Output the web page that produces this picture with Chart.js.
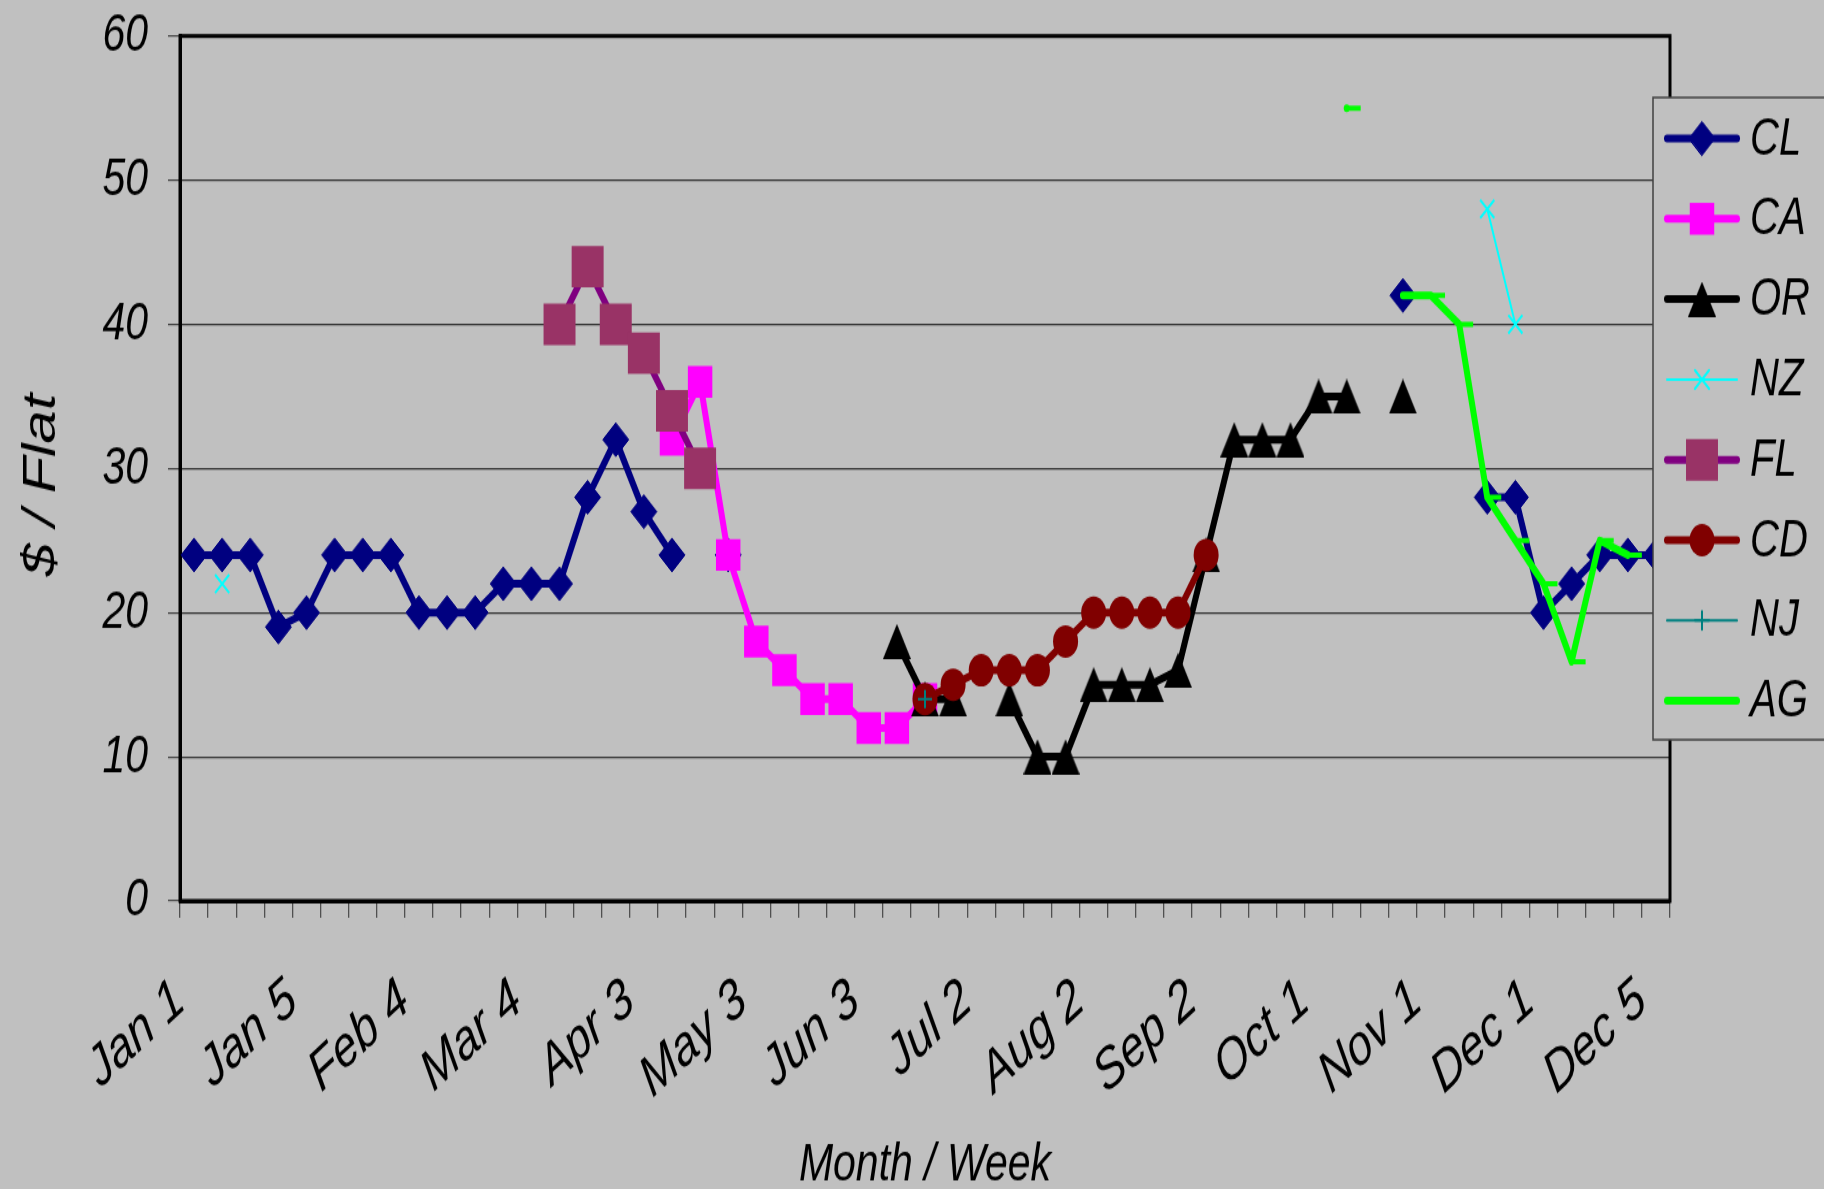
<!DOCTYPE html>
<html>
<head>
<meta charset="utf-8">
<script src="https://cdn.jsdelivr.net/npm/chart.js@4.4.0/dist/chart.umd.min.js"></script>
<style>
  html { margin: 0; padding: 0; background: #c0c0c0; overflow: hidden; }
  body { margin: 0; padding: 0; width: 1824px; height: 1189px; }
  /* the reference is stretched vertically, so draw flat and stretch */
  #wrap { width: 1824px; height: 915px; transform: scaleY(1.3); transform-origin: 0 0; }
</style>
</head>
<body>
<div id="wrap"><canvas id="priceChart" width="1824" height="915"></canvas></div>
<script>
const _ = null;

// week categories
const weeks = ['Jan 1','Jan 2','Jan 3','Jan 4','Jan 5','Feb 1','Feb 2','Feb 3','Feb 4',
  'Mar 1','Mar 2','Mar 3','Mar 4','Mar 5','Apr 1','Apr 2','Apr 3','Apr 4',
  'May 1','May 2','May 3','May 4','Jun 1','Jun 2','Jun 3','Jun 4','Jun 5',
  'Jul 1','Jul 2','Jul 3','Jul 4','Aug 1','Aug 2','Aug 3','Aug 4',
  'Sep 1','Sep 2','Sep 3','Sep 4','Sep 5','Oct 1','Oct 2','Oct 3','Oct 4',
  'Nov 1','Nov 2','Nov 3','Nov 4','Dec 1','Dec 2','Dec 3','Dec 4','Dec 5'];

// $ per flat, by week
const cl = [24,24,24,19,20,24,24,24,20,20, 20,22,22,22,28,32,27,24,_,24,
            _,_,_,_,_,_,_,_,_,_, _,_,_,_,_,_,_,_,_,_,
            _,_,_,42,_,_,28,28,20,22, 24,24,24];
const ca = [_,_,_,_,_,_,_,_,_,_, _,_,_,_,_,_,_,32,36,24,
            18,16,14,14,12,12,14,_,_,_, _,_,_,_,_,_,_,_,_,_,
            _,_,_,_,_,_,_,_,_,_, _,_,_];
const or = [_,_,_,_,_,_,_,_,_,_, _,_,_,_,_,_,_,_,_,_,
            _,_,_,_,_,18,14,14,_,14, 10,10,15,15,15,16,24,32,32,32,
            35,35,_,35,_,_,_,_,_,_, _,_,_];
const nz = [_,22,_,_,_,_,_,_,_,_, _,_,_,_,_,_,_,_,_,_,
            _,_,_,_,_,_,_,_,_,_, _,_,_,_,_,_,_,_,_,_,
            _,_,_,_,_,_,48,40,_,_, _,_,_];
const fl = [_,_,_,_,_,_,_,_,_,_, _,_,_,40,44,40,38,34,30,_,
            _,_,_,_,_,_,_,_,_,_, _,_,_,_,_,_,_,_,_,_,
            _,_,_,_,_,_,_,_,_,_, _,_,_];
const cd = [_,_,_,_,_,_,_,_,_,_, _,_,_,_,_,_,_,_,_,_,
            _,_,_,_,_,_,14,15,16,16, 16,18,20,20,20,20,24,_,_,_,
            _,_,_,_,_,_,_,_,_,_, _,_,_];
const nj = [_,_,_,_,_,_,_,_,_,_, _,_,_,_,_,_,_,_,_,_,
            _,_,_,_,_,_,14,_,_,_, _,_,_,_,_,_,_,_,_,_,
            _,_,_,_,_,_,_,_,_,_, _,_,_];
const ag = [_,_,_,_,_,_,_,_,_,_, _,_,_,_,_,_,_,_,_,_,
            _,_,_,_,_,_,_,_,_,_, _,_,_,_,_,_,_,_,_,_,
            _,55,_,42,42,40,28,25,22,16.6, 25,24,_];

const yTicks = [0, 10, 20, 30, 40, 50, 60];

const FONT = '"Liberation Sans", Arial, sans-serif';

// triangle marker (point sits at mid height like the original)
const tri = document.createElement('canvas');
tri.width = 28; tri.height = 27;
(function() {
    const c = tri.getContext('2d');
    c.fillStyle = '#000';
    c.beginPath();
    c.moveTo(14, 0); c.lineTo(28, 27); c.lineTo(0, 27); c.closePath();
    c.fill();
})();

function series(label, data, color, width, style, radius, extra) {
    return Object.assign({
        label: label,
        data: data,
        borderColor: color,
        backgroundColor: color,
        borderWidth: width,
        borderJoinStyle: 'round',
        borderCapStyle: 'round',
        pointStyle: style,
        pointRadius: radius,
        pointBackgroundColor: color,
        pointBorderColor: color,
        pointBorderWidth: 0,
        tension: 0,
        spanGaps: false
    }, extra || {});
}

const datasets = [
    series('CL', cl, '#000080', 6, 'rectRot', 13, { pointBorderWidth: 1 }),
    series('CA', ca, '#ff00ff', 6, 'rect', 17.3),
    series('OR', or, '#000000', 6, tri, 13),
    series('NZ', nz, '#00ffff', 2, 'crossRot', 10, { pointBorderWidth: 2 }),
    series('FL', fl, '#800080', 6, 'rect', 22.6, { pointBackgroundColor: '#993366', pointBorderColor: '#993366' }),
    series('CD', cd, '#800000', 6, 'circle', 12.5),
    series('NJ', nj, '#008080', 2, 'cross', 7, { pointBorderWidth: 2 }),
    series('AG', ag, '#00ff00', 6, 'dash', 14, { pointBorderWidth: 4 })
];
// later series on top, like the original
datasets.forEach((d, i) => { d.order = datasets.length - i; });

function drawMarker(ctx, ds, x, y) {
    const r = ds.pointRadius;
    const s = ds.pointStyle;
    ctx.fillStyle = ds.pointBackgroundColor;
    ctx.strokeStyle = ds.pointBorderColor;
    ctx.lineWidth = ds.pointBorderWidth;
    ctx.beginPath();
    if (typeof s === 'object') {
        ctx.drawImage(s, x - s.width / 2, y - s.height / 2);
        return;
    } else if (s === 'rectRot') {
        ctx.moveTo(x - r, y); ctx.lineTo(x, y - r); ctx.lineTo(x + r, y); ctx.lineTo(x, y + r);
        ctx.closePath(); ctx.fill(); ctx.stroke();
    } else if (s === 'rect') {
        const h = r * Math.SQRT1_2;
        ctx.rect(x - h, y - h, 2 * h, 2 * h); ctx.fill();
    } else if (s === 'circle') {
        ctx.arc(x, y, r, 0, Math.PI * 2); ctx.fill();
    } else if (s === 'crossRot') {
        const h = r * Math.SQRT1_2;
        ctx.moveTo(x - h, y - h); ctx.lineTo(x + h, y + h);
        ctx.moveTo(x - h, y + h); ctx.lineTo(x + h, y - h); ctx.stroke();
    } else if (s === 'cross') {
        ctx.moveTo(x - r, y); ctx.lineTo(x + r, y);
        ctx.moveTo(x, y - r); ctx.lineTo(x, y + r); ctx.stroke();
    }
}

// plot frame drawn under the series
const plotFrame = {
    id: 'plotFrame',
    beforeDatasetsDraw(chart) {
        const a = chart.chartArea;
        const ctx = chart.ctx;
        ctx.save();
        ctx.strokeStyle = '#000';
        ctx.lineWidth = 3;
        ctx.strokeRect(a.left, a.top, a.right - a.left, a.bottom - a.top);
        ctx.restore();
    }
};

// legend box overlapping the right edge of the plot
const legendBox = {
    id: 'legendBox',
    afterDraw(chart) {
        const ctx = chart.ctx;
        ctx.save();
        ctx.fillStyle = '#c0c0c0';
        ctx.fillRect(1653, 75, 200, 494);
        ctx.strokeStyle = '#404040';
        ctx.lineWidth = 1.5;
        ctx.strokeRect(1653, 75, 200, 494);
        chart.data.datasets.forEach((ds, i) => {
            const y = 106.5 + i * 61.8;
            ctx.strokeStyle = ds.borderColor;
            ctx.lineWidth = ds.borderWidth;
            ctx.lineCap = 'round';
            ctx.beginPath();
            ctx.moveTo(1667, y);
            ctx.lineTo(1737, y);
            ctx.stroke();
            if (ds.pointStyle !== 'dash') drawMarker(ctx, ds, 1702, y);
            ctx.fillStyle = '#000';
            ctx.font = 'italic 40px ' + FONT;
            ctx.textBaseline = 'middle';
            ctx.textAlign = 'left';
            ctx.fillText(ds.label, 1750, y + 1);
        });
        ctx.restore();
    }
};

const ctx = document.getElementById('priceChart').getContext('2d');
const priceChart = new Chart(ctx, {
    type: 'line',
    data: { labels: weeks, datasets: datasets },
    plugins: [plotFrame, legendBox],
    options: {
        responsive: false,
        animation: false,
        devicePixelRatio: 1,
        layout: { padding: { top: 27.7, right: 154, bottom: 0, left: 0 } },
        plugins: {
            legend: { display: false },
            tooltip: { enabled: false }
        },
        scales: {
            x: {
                type: 'category',
                offset: true,
                grid: {
                    display: true,
                    offset: true,
                    drawOnChartArea: false,
                    drawTicks: true,
                    tickLength: 13,
                    color: '#505050',
                    lineWidth: 1.3
                },
                border: { display: true, color: '#000', width: 3 },
                ticks: {
                    autoSkip: false,
                    maxRotation: 36,
                    minRotation: 36,
                    padding: 37,
                    labelOffset: -14,
                    color: '#000',
                    font: { family: FONT, size: 44, style: 'italic' },
                    callback: function(value, index) {
                        return index % 4 === 0 ? this.getLabelForValue(value) : '';
                    }
                },
                title: {
                    display: true,
                    text: 'Month / Week',
                    color: '#000',
                    padding: 0,
                    font: { family: FONT, size: 41, style: 'italic', lineHeight: 0.9 }
                },
                afterFit: function(scale) {
                    scale.height = 222;
                    scale.paddingLeft = 0;
                    scale.paddingRight = 0;
                }
            },
            y: {
                min: 0,
                max: 60,
                afterBuildTicks: function(scale) {
                    scale.ticks = yTicks.map(v => ({ value: v }));
                },
                grid: {
                    color: '#333',
                    lineWidth: 1.2,
                    drawTicks: true,
                    tickLength: 12,
                    tickColor: '#404040'
                },
                border: { display: true, color: '#000', width: 3 },
                ticks: {
                    padding: 20,
                    color: '#000',
                    font: { family: FONT, size: 41, style: 'italic' }
                },
                title: {
                    display: true,
                    text: '$ / Flat  ',
                    color: '#000',
                    padding: { top: 19, bottom: 0 },
                    font: { family: FONT, size: 46, style: 'italic', lineHeight: 1 }
                },
                afterFit: function(scale) {
                    scale.width = 180;
                    scale.paddingTop = 0;
                    scale.paddingBottom = 0;
                }
            }
        }
    }
});
</script>
</body>
</html>
